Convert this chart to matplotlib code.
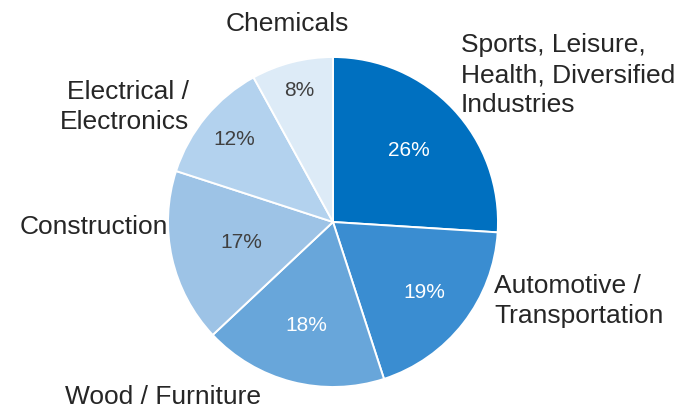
import numpy as np
import matplotlib.pyplot as plt

plt.rcParams['font.family'] = ['Liberation Sans', 'DejaVu Sans']

# slices, clockwise from 12 o'clock
segments = ["Sports, Leisure,\nHealth, Diversified\nIndustries",
			"Automotive /\nTransportation",
			"Wood / Furniture",
			"Construction",
			"Electrical /\nElectronics",
			"Chemicals"]
shares = [26, 19, 18, 17, 12, 8]
colours = ["#0070c0", "#3a8dd1", "#68a6da", "#9dc3e6", "#b3d2ee", "#ddebf7"]
pctColours = ["white", "white", "white", "#404040", "#404040", "#404040"]

R = 165.0  # pie radius in pixels
cx, cy = 333.0, 222.0  # pie centre in pixels (from top-left)
W, H = 682, 409

fig = plt.figure(figsize=(W / 100, H / 100), dpi=100)
ax = fig.add_axes([0, 0, 1, 1])

wedges, _ = ax.pie(shares, colors=colours, startangle=90, counterclock=False,
				   radius=1.0, wedgeprops=dict(edgecolor="white", linewidth=1.4),
				   frame=True)
ax.set_xlim(-cx / R, (W - cx) / R)
ax.set_ylim(-(H - cy) / R, cy / R)
ax.set_aspect("auto")
ax.axis("off")

# percentage labels, placed along each wedge's mid angle
pctRadius = [0.63, 0.70, 0.65, 0.57, 0.78, 0.82]
for w, s, r, c in zip(wedges, shares, pctRadius, pctColours):
	mid = np.deg2rad((w.theta1 + w.theta2) / 2.0)
	ax.text(r * np.cos(mid), r * np.sin(mid), "{}%".format(s),
			ha="center", va="center", fontsize=15, color=c)


def px(x, y):
	return (x - cx) / R, (cy - y) / R


# category labels (pixel positions)
labelPos = [(461, 75, "left", "left"),
			(494, 301, "left", "left"),
			(163, 397, "center", "center"),
			(168, 227, "right", "right"),
			(124, 107, "center", "right"),
			(287, 24, "center", "center")]
for name, (x, y, ha, ma) in zip(segments, labelPos):
	X, Y = px(x, y)
	ax.text(X, Y, name, ha=ha, va="center", multialignment=ma,
			fontsize=19, color="#262626", linespacing=1.32)

fig.savefig("out.png", dpi=100)
